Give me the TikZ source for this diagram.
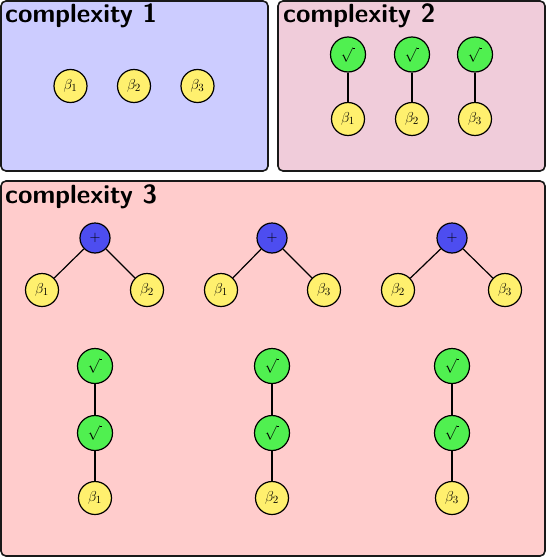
\documentclass[tikz,border=0pt]{standalone}
\usetikzlibrary{positioning}
\definecolor{yel}{RGB}{255,240,110}
\definecolor{grn}{RGB}{80,240,80}
\definecolor{blu}{RGB}{77,77,240}
\definecolor{bxone}{RGB}{204,204,255}
\definecolor{bxtwo}{RGB}{240,204,218}
\definecolor{bxthree}{RGB}{255,204,204}
\tikzset{
  box/.style={draw=black!90, line width=1.6pt, rounded corners=5pt},
  boxtitle/.style={anchor=base west, inner sep=0pt, font=\fontsize{26.3}{30}\selectfont\sffamily\bfseries},
  beta/.style={circle, draw=black, line width=1.2pt, fill=yel, minimum size=33pt, inner sep=0pt, font=\fontsize{15}{17}\selectfont},
  sq/.style={circle, draw=black, line width=1.2pt, fill=grn, minimum size=35pt, inner sep=0pt, font=\fontsize{15}{17}\selectfont},
  pl/.style={circle, draw=black, line width=1.2pt, fill=blu, minimum size=30pt, inner sep=0pt, font=\fontsize{15}{17}\selectfont},
  edge/.style={line width=1.2pt}
}
\begin{document}
\begin{tikzpicture}[x=1pt,y=-1pt]
\useasboundingbox (0,0) rectangle (546,557);
% boxes
\draw[box, fill=bxone] (1,1) rectangle (268,171);
\draw[box, fill=bxtwo] (278,1) rectangle (545,171);
\draw[box, fill=bxthree] (1,181) rectangle (545,556);
\node[boxtitle] (t1) at (5,22) {complexity 1};
\node[boxtitle] (t2) at (283,22) {complexity 2};
\node[boxtitle] (t3) at (5,203) {complexity 3};
% complexity 1
\node[beta] (a1) at (70.5,86) {$\beta_1$};
\node[beta] (a2) at (134,86) {$\beta_2$};
\node[beta] (a3) at (197.5,86) {$\beta_3$};
% complexity 2
\node[sq] (s1) at (348,54.5) {$\sqrt{\,}$};
\node[sq] (s2) at (412,54.5) {$\sqrt{\,}$};
\node[sq] (s3) at (475,54.5) {$\sqrt{\,}$};
\node[beta] (b1) at (348,119) {$\beta_1$};
\node[beta] (b2) at (412,119) {$\beta_2$};
\node[beta] (b3) at (475,119) {$\beta_3$};
\draw[edge] (s1) -- (b1);
\draw[edge] (s2) -- (b2);
\draw[edge] (s3) -- (b3);
% complexity 3: sums
\node[pl] (p1) at (95,238) {$+$};
\node[beta] (p1l) at (42,290) {$\beta_1$};
\node[beta] (p1r) at (147,290) {$\beta_2$};
\node[pl] (p2) at (272,238) {$+$};
\node[beta] (p2l) at (221,290) {$\beta_1$};
\node[beta] (p2r) at (324,290) {$\beta_3$};
\node[pl] (p3) at (452,238) {$+$};
\node[beta] (p3l) at (398,290) {$\beta_2$};
\node[beta] (p3r) at (505,290) {$\beta_3$};
\draw[edge] (p1) -- (p1l); \draw[edge] (p1) -- (p1r);
\draw[edge] (p2) -- (p2l); \draw[edge] (p2) -- (p2r);
\draw[edge] (p3) -- (p3l); \draw[edge] (p3) -- (p3r);
% complexity 3: chains
\node[sq] (c1a) at (95,366) {$\sqrt{\,}$};
\node[sq] (c1b) at (95,433) {$\sqrt{\,}$};
\node[beta] (c1c) at (95,498) {$\beta_1$};
\node[sq] (c2a) at (272,366) {$\sqrt{\,}$};
\node[sq] (c2b) at (272,433) {$\sqrt{\,}$};
\node[beta] (c2c) at (272,498) {$\beta_2$};
\node[sq] (c3a) at (452,366) {$\sqrt{\,}$};
\node[sq] (c3b) at (452,433) {$\sqrt{\,}$};
\node[beta] (c3c) at (452,498) {$\beta_3$};
\draw[edge] (c1a) -- (c1b) -- (c1c);
\draw[edge] (c2a) -- (c2b) -- (c2c);
\draw[edge] (c3a) -- (c3b) -- (c3c);
\end{tikzpicture}
\end{document}
